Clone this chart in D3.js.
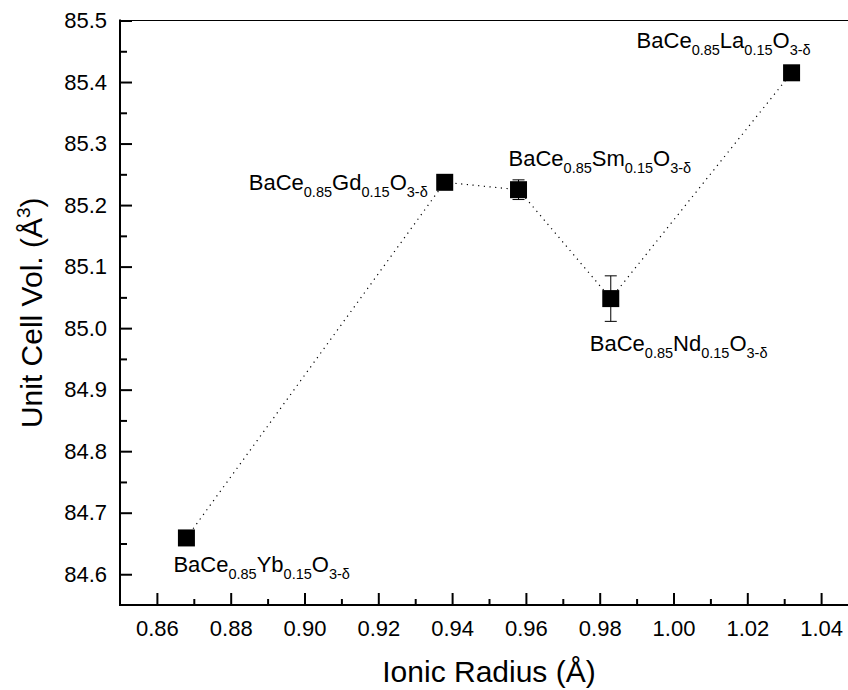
<!DOCTYPE html>
<html lang="en">
<head>
<meta charset="UTF-8">
<title>Unit cell volume vs ionic radius</title>
<script src="https://d3js.org/d3.v7.min.js"></script>
<style>
body{margin:0; background:#fff;}
svg{display:block; font-family:"Liberation Sans", Arial, sans-serif;}
</style>
</head>
<body>
<div class="chart"></div>
<script>
// ionic radius of dopant (Å) and unit cell volume (Å^3)
var dopants = ["Yb", "Gd", "Sm", "Nd", "La"];
var radius = [0.868, 0.938, 0.958, 0.983, 1.032];
var volume = [84.659, 85.237, 85.225, 85.048, 85.415];
var volErr = [0.003, 0.004, 0.016, 0.037, 0.003];

var xMajor = [0.86, 0.88, 0.90, 0.92, 0.94, 0.96, 0.98, 1.00, 1.02, 1.04];
var xMinor = [0.87, 0.89, 0.91, 0.93, 0.95, 0.97, 0.99, 1.01, 1.03, 1.05];
var yMajor = [84.6, 84.7, 84.8, 84.9, 85.0, 85.1, 85.2, 85.3, 85.4, 85.5];
var yMinor = [84.65, 84.75, 84.85, 84.95, 85.05, 85.15, 85.25, 85.35, 85.45];

var w = 848, h = 690;
var pLeft = 120, pRight = 858, pTop = 20.5, pBottom = 605;

var svg = d3.select(".chart").append("svg")
	.attr("width", w)
	.attr("height", h);

var x = d3.scaleLinear().domain([0.85, 1.05]).range([pLeft, pRight]);
var y = d3.scaleLinear().domain([84.55, 85.5]).range([pBottom, pTop]);

// axes (ticks point inward)
svg.append("g").attr("transform", "translate(0," + pBottom + ")")
	.call(d3.axisBottom(x).tickValues(xMajor).tickSizeInner(-12).tickSizeOuter(0)
		.tickPadding(15).tickFormat(d3.format(".2f")));
svg.append("g").attr("transform", "translate(0," + pBottom + ")")
	.call(d3.axisBottom(x).tickValues(xMinor).tickSizeInner(-6).tickSizeOuter(0).tickFormat(""));

svg.append("g").attr("transform", "translate(" + pLeft + ",0)")
	.call(d3.axisLeft(y).tickValues(yMajor).tickSizeInner(-12).tickSizeOuter(0)
		.tickPadding(13).tickFormat(d3.format(".1f")));
svg.append("g").attr("transform", "translate(" + pLeft + ",0)")
	.call(d3.axisLeft(y).tickValues(yMinor).tickSizeInner(-7).tickSizeOuter(0).tickFormat(""));

svg.selectAll(".domain").remove();
svg.selectAll(".tick line").attr("stroke", "#000").attr("stroke-width", 2);
svg.selectAll(".tick text").attr("fill", "#000").attr("font-size", "22px")
	.attr("font-family", "Liberation Sans, Arial, sans-serif");

// frame
svg.append("line").attr("x1", pLeft).attr("x2", pLeft).attr("y1", pTop - 1).attr("y2", pBottom + 1)
	.attr("stroke", "#000").attr("stroke-width", 2);
svg.append("line").attr("x1", pLeft - 1).attr("x2", pRight).attr("y1", pBottom).attr("y2", pBottom)
	.attr("stroke", "#000").attr("stroke-width", 2);
svg.append("line").attr("x1", pLeft).attr("x2", pRight).attr("y1", pTop).attr("y2", pTop)
	.attr("stroke", "#000").attr("stroke-width", 1);
svg.append("line").attr("x1", pRight).attr("x2", pRight).attr("y1", pTop).attr("y2", pBottom)
	.attr("stroke", "#000").attr("stroke-width", 2);

// dotted connecting line
var line = d3.line()
	.x(function(d, i){ return x(radius[i]); })
	.y(function(d, i){ return y(volume[i]); });
svg.append("path")
	.attr("d", line(volume))
	.attr("fill", "none")
	.attr("stroke", "#000")
	.attr("stroke-width", 1.2)
	.attr("stroke-dasharray", "1.2,4.5");

// error bars
var eb = svg.selectAll(".err").data(volume).enter().append("g").attr("class", "err");
eb.append("line")
	.attr("x1", function(d, i){ return x(radius[i]); })
	.attr("x2", function(d, i){ return x(radius[i]); })
	.attr("y1", function(d, i){ return y(d - volErr[i]); })
	.attr("y2", function(d, i){ return y(d + volErr[i]); })
	.attr("stroke", "#000").attr("stroke-width", 1);
[-1, 1].forEach(function(s){
	eb.append("line")
		.attr("x1", function(d, i){ return x(radius[i]) - 6; })
		.attr("x2", function(d, i){ return x(radius[i]) + 6; })
		.attr("y1", function(d, i){ return y(d + s * volErr[i]); })
		.attr("y2", function(d, i){ return y(d + s * volErr[i]); })
		.attr("stroke", "#000").attr("stroke-width", 1);
});

// square markers
var sz = 17;
svg.selectAll(".pt").data(volume).enter().append("rect")
	.attr("class", "pt")
	.attr("x", function(d, i){ return x(radius[i]) - sz / 2; })
	.attr("y", function(d){ return y(d) - sz / 2; })
	.attr("width", sz)
	.attr("height", sz)
	.attr("fill", "#000");

// composition labels: offset from point, anchor
var labelDx = [-13, -17, -10, -21, -155];
var labelDy = [34, 8, -24, 52, -25];
var labelAnchor = ["start", "end", "start", "start", "start"];

dopants.forEach(function(el, i){
	var t = svg.append("text")
		.attr("x", x(radius[i]) + labelDx[i])
		.attr("y", y(volume[i]) + labelDy[i])
		.attr("text-anchor", labelAnchor[i])
		.attr("font-size", "22px")
		.attr("fill", "#000");
	t.append("tspan").text("BaCe");
	t.append("tspan").attr("font-size", "14.5px").attr("dy", 7).text("0.85");
	t.append("tspan").attr("dy", -7).text(el);
	t.append("tspan").attr("font-size", "14.5px").attr("dy", 7).text("0.15");
	t.append("tspan").attr("dy", -7).text("O");
	t.append("tspan").attr("font-size", "14.5px").attr("dy", 7).text("3-δ");
});

// axis titles
svg.append("text")
	.attr("x", (pLeft + pRight) / 2)
	.attr("y", 682)
	.attr("text-anchor", "middle")
	.attr("font-size", "30px")
	.attr("fill", "#000")
	.text("Ionic Radius (Å)");

var yt = svg.append("text")
	.attr("transform", "translate(42," + ((pTop + pBottom) / 2) + ") rotate(-90)")
	.attr("text-anchor", "middle")
	.attr("font-size", "30px")
	.attr("fill", "#000");
yt.append("tspan").text("Unit Cell Vol. (Å");
yt.append("tspan").attr("font-size", "19px").attr("dy", -12).text("3");
yt.append("tspan").attr("dy", 12).text(")");
</script>
</body>
</html>
